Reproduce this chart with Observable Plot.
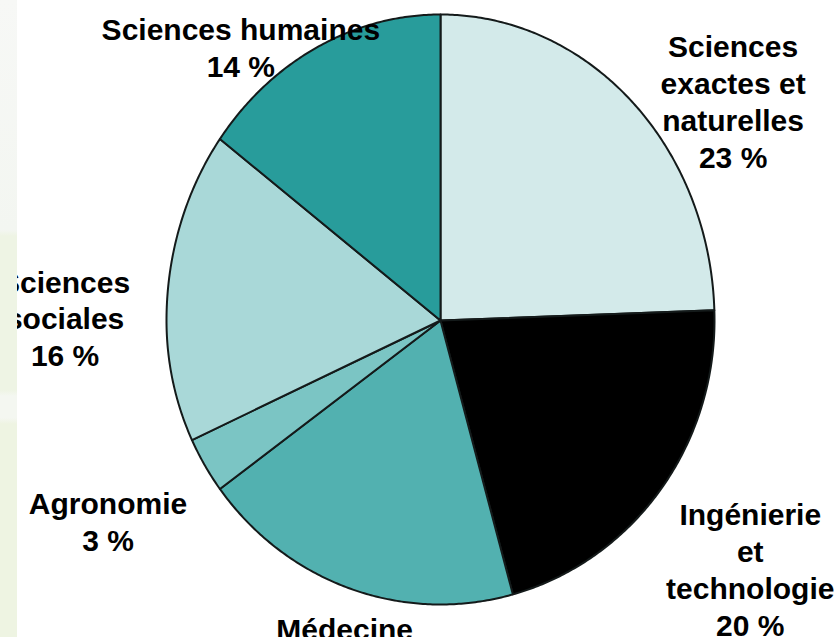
<!DOCTYPE html>
<html>
<head>
<meta charset="utf-8">
<script src="https://cdn.jsdelivr.net/npm/d3@7"></script>
<script src="https://cdn.jsdelivr.net/npm/@observablehq/plot@0.6"></script>
<style>
  html, body { margin: 0; padding: 0; background: #fff; overflow: hidden; }
  #wrap { position: relative; width: 838px; height: 637px; overflow: hidden; }
  #strip { position: absolute; left: 0; top: 0; width: 17px; height: 637px;
    background: linear-gradient(to bottom, #f7f8f6 0px, #f3f6f1 230px, #eef4e4 236px, #eef4e4 390px, #f4f7f1 396px, #f4f7f1 418px, #eef4e2 424px, #eef4e2 637px); }
</style>
</head>
<body>
<div id="wrap"><div id="chart"></div><div id="strip"></div></div>
<script>
// ---- data ----
const categories = ["Sciences exactes et naturelles", "Ingénierie et technologie", "Médecine", "Agronomie", "Sciences sociales", "Sciences humaines"];
const labelNames = ["Sciences\nexactes et\nnaturelles", "Ingénierie\net\ntechnologie", "Médecine", "Agronomie", "Sciences\nsociales", "Sciences humaines"];
const values = [23, 20, 18, 3, 16, 14];
// percentage line shown under each name (the Médecine one falls outside the frame in the reference)
const pctShown = [true, true, false, true, true, true];
const colors = ["#d3eaea", "#000000", "#52b1b0", "#7bc5c4", "#a9d8d8", "#289c9b"];

// ---- label nudges (pixels, style only) ----
const nudges = {
  "Sciences exactes et naturelles": [45, 66],
  "Ingénierie et technologie": [23, 29],
  "Médecine": [21, -41],
  "Agronomie": [-26, 12],
  "Sciences sociales": [-21, 37],
  "Sciences humaines": [-39, 81]
};

// ---- build slice outlines from the values ----
const table = categories.map((c, i) => ({
  name: c, value: values[i],
  label: labelNames[i] + (pctShown[i] ? "\n" + values[i] + " %" : "")
}));
const arcs = d3.pie().sort(null).value(d => d.value)(table);
const outline = [];
for (const a of arcs) {
  const n = Math.max(2, Math.ceil((a.endAngle - a.startAngle) / (Math.PI / 360)));
  outline.push({name: a.data.name, x: 0, y: 0});
  for (let k = 0; k <= n; k++) {
    const t = a.startAngle + (a.endAngle - a.startAngle) * k / n;
    outline.push({name: a.data.name, x: Math.sin(t), y: Math.cos(t)});
  }
  outline.push({name: a.data.name, x: 0, y: 0});
}
const R = 1.3;
const labels = arcs.map(a => {
  const m = (a.startAngle + a.endAngle) / 2;
  return {name: a.data.name, text: a.data.label, x: R * Math.sin(m), y: R * Math.cos(m)};
});

const chart = Plot.plot({
  width: 838,
  height: 637,
  margin: 0,
  x: {type: "linear", domain: [-1, 1], range: [166, 714], axis: null},
  y: {type: "linear", domain: [-1, 0, 1], range: [604, 320, 14], axis: null},
  color: {domain: categories, range: colors},
  style: {background: "white", overflow: "hidden"},
  marks: [
    Plot.line(outline, {x: "x", y: "y", z: "name", fill: "name", stroke: "#141a1a", strokeWidth: 2, strokeLinejoin: "round", curve: "linear"}),
    ...labels.map(l => Plot.text([l], {
      x: "x", y: "y", text: "text",
      dx: nudges[l.name][0], dy: nudges[l.name][1],
      textAnchor: "middle", lineAnchor: "middle", lineHeight: 1.23,
      fontFamily: "Liberation Sans, Arial, sans-serif", fontSize: 30, fontWeight: "bold", fill: "#000"
    }))
  ]
});
document.getElementById("chart").appendChild(chart);
</script>
</body>
</html>
